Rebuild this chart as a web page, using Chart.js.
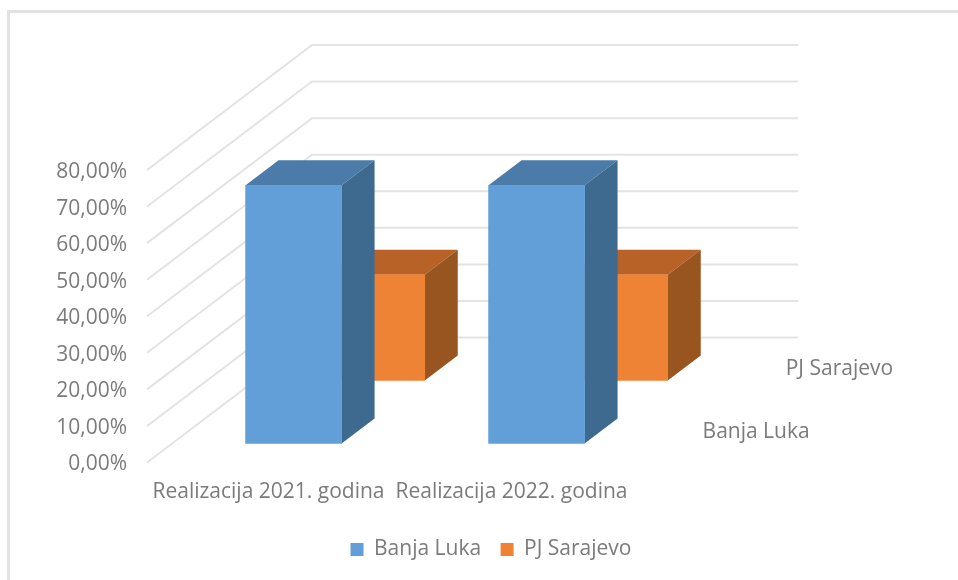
<!DOCTYPE html>
<html>
<head>
<meta charset="utf-8">
<script src="https://cdn.jsdelivr.net/npm/chart.js@4"></script>
<style>
html, body { margin: 0; padding: 0; background: #fff; overflow: hidden; }
#wrap { position: relative; width: 958px; height: 580px; overflow: hidden; }
#frame { position: absolute; left: 7px; top: 10px; width: 1000px; height: 600px; border: 3px solid #e2e2e2; box-sizing: border-box; }
canvas { position: absolute; left: 0; top: 0; }
</style>
</head>
<body>
<div id="wrap">
    <div id="frame"></div>
    <canvas id="chart1" width="958" height="580"></canvas>
</div>
<script>
var categories = ['Realizacija 2021. godina', 'Realizacija 2022. godina'];
var seriesNames = ['Banja Luka', 'PJ Sarajevo'];
var banjaLuka = [70.6, 70.6];
var pjSarajevo = [28.9, 28.9];
var yTickLabels = ['0,00%', '10,00%', '20,00%', '30,00%', '40,00%', '50,00%', '60,00%', '70,00%', '80,00%'];

var textColor = '#7b7b7b';
var fontFamily = '"Open Sans", sans-serif';
var fontSize = 21;
var wallDx = 165;
var wallDy = 125;
var rowDepth = [0.152, 0.656];
var barDepth = 0.2;
var frontColors = ['#629fd8', '#ee8336'];
var topColors = ['#4b7ba8', '#b86228'];
var sideColors = ['#3f6a90', '#985520'];

function face(ctx, pts, color) {
    ctx.beginPath();
    ctx.moveTo(pts[0][0], pts[0][1]);
    for (var i = 1; i < pts.length; i++) {
        ctx.lineTo(pts[i][0], pts[i][1]);
    }
    ctx.closePath();
    ctx.fillStyle = color;
    ctx.fill();
}

// Chart.js has no 3D bars, so the walls and extra faces are added here
var threeD = {
    id: 'threeD',
    beforeDatasetsDraw: function(chart) {
        var ctx = chart.ctx;
        var area = chart.chartArea;
        var yScale = chart.scales.y;
        ctx.save();
        ctx.strokeStyle = '#e3e3e3';
        ctx.lineWidth = 2;
        yScale.ticks.forEach(function(tick) {
            var y = yScale.getPixelForValue(tick.value);
            ctx.beginPath();
            ctx.moveTo(area.left, y);
            ctx.lineTo(area.left + wallDx, y - wallDy);
            ctx.lineTo(area.right + wallDx, y - wallDy);
            ctx.stroke();
        });
        ctx.fillStyle = textColor;
        ctx.font = fontSize + 'px ' + fontFamily;
        ctx.textBaseline = 'middle';
        seriesNames.forEach(function(name, i) {
            var f = rowDepth[i] + barDepth / 2;
            ctx.fillText(name, area.right + wallDx * f + 28, yScale.bottom - wallDy * f + 1.5);
        });
        ctx.restore();
    },
    beforeDatasetDraw: function(chart, args) {
        var ctx = chart.ctx;
        var i = args.index;
        var dx = wallDx * barDepth;
        var dy = wallDy * barDepth;
        ctx.save();
        ctx.translate(wallDx * rowDepth[i], -wallDy * rowDepth[i]);
        args.meta.data.forEach(function(bar) {
            var l = bar.x - bar.width / 2;
            var r = bar.x + bar.width / 2;
            face(ctx, [[l, bar.y], [l + dx, bar.y - dy], [r + dx, bar.y - dy], [r, bar.y]], topColors[i]);
            face(ctx, [[r, bar.y], [r + dx, bar.y - dy], [r + dx, bar.base - dy], [r, bar.base]], sideColors[i]);
        });
    },
    afterDatasetDraw: function(chart) {
        chart.ctx.restore();
    }
};

var ctx = document.getElementById('chart1');
var myChart = new Chart(ctx, {
    type: 'bar',
    data: {
        labels: categories,
        datasets: [{
            label: seriesNames[0],
            data: banjaLuka,
            backgroundColor: frontColors[0],
            barThickness: 96,
            clip: false
        }, {
            label: seriesNames[1],
            data: pjSarajevo,
            backgroundColor: frontColors[1],
            barThickness: 96,
            clip: false
        }]
    },
    plugins: [threeD],
    options: {
        responsive: false,
        animation: false,
        layout: {
            padding: { top: 170, left: 24, right: 0, bottom: 10 }
        },
        scales: {
            x: {
                grid: { display: false },
                border: { display: false },
                ticks: {
                    color: textColor,
                    font: { family: fontFamily, size: fontSize },
                    padding: 9,
                    maxRotation: 0,
                    autoSkip: false
                },
                afterFit: function(scale) {
                    scale.height = 57;
                }
            },
            y: {
                min: 0,
                max: 80,
                grid: { display: false },
                border: { display: false },
                ticks: {
                    stepSize: 10,
                    color: textColor,
                    font: { family: fontFamily, size: fontSize },
                    padding: 12,
                    labelOffset: 2,
                    callback: function(value, index) {
                        return yTickLabels[index];
                    }
                },
                afterFit: function(scale) {
                    scale.width = 123;
                }
            },
            // empty axis, keeps the room on the right for the depth of the walls
            depth: {
                position: 'right',
                grid: { display: false },
                border: { display: false },
                ticks: { display: false },
                afterFit: function(scale) {
                    scale.width = 325;
                }
            }
        },
        datasets: {
            bar: { grouped: false }
        },
        plugins: {
            tooltip: { enabled: false },
            legend: {
                position: 'bottom',
                labels: {
                    color: textColor,
                    font: { family: fontFamily, size: fontSize },
                    boxWidth: 13,
                    boxHeight: 13,
                    padding: 19.5
                }
            }
        }
    }
});
</script>
</body>
</html>
